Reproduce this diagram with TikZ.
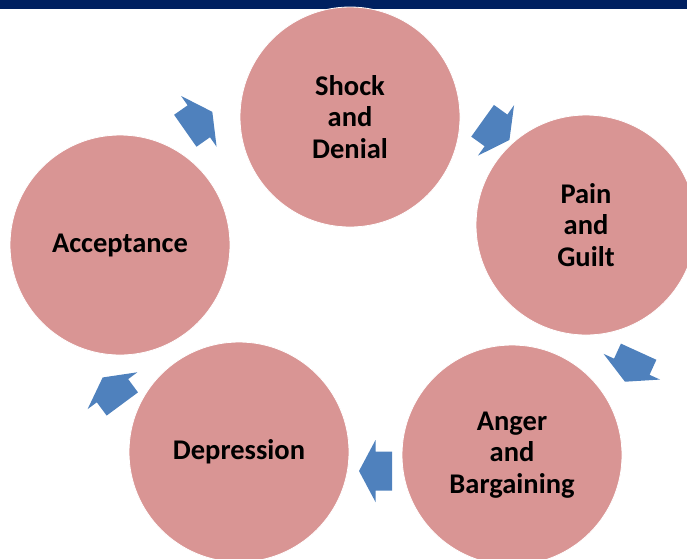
\documentclass[tikz,border=0pt]{standalone}
\usepackage{fontspec}
\setmainfont{Carlito}
\definecolor{barblue}{HTML}{002060}
\definecolor{stagefill}{HTML}{D99594}
\definecolor{arrowblue}{HTML}{4F81BD}
\begin{document}
\begin{tikzpicture}[x=1pt,y=-1pt,
  stage/.style={circle, minimum size=220pt, inner sep=0pt, fill=stagefill,
    draw=white, line width=0.8pt, align=center,
    font=\bfseries\fontsize{28.5}{31.5}\selectfont},
  cyc/.style={fill=arrowblue, draw=none}]
\useasboundingbox (0,0) rectangle (687,558);
\clip (0,0) rectangle (687,558);
\fill[barblue] (0,0) rectangle (687,9);
\node[stage] (shock) at (350,117) {Shock\\and\\Denial};
\node[stage] (pain) at (586,225) {Pain\\and\\Guilt};
\node[stage] (anger) at (512,455) {Anger\\and\\Bargaining};
\node[stage] (depr) at (239,452) {Depression};
\node[stage] (accept) at (120,245) {Acceptance};
\newcommand{\cyclearrow}[3]{%
  \begin{scope}[shift={(#1,#2)}, rotate=#3]
    \fill[cyc] (16.5,0) -- (0,31) -- (0,19.5) -- (-16.5,19.5)
      -- (-16.5,-19.5) -- (0,-19.5) -- (0,-31) -- cycle;
  \end{scope}}
\cyclearrow{496}{130.4}{-35.6}
\cyclearrow{631.8}{366.7}{-114.5}
\cyclearrow{375.5}{471}{180}
\cyclearrow{112.5}{390.7}{126.5}
\cyclearrow{198.8}{121.3}{35}
\end{tikzpicture}
\end{document}
